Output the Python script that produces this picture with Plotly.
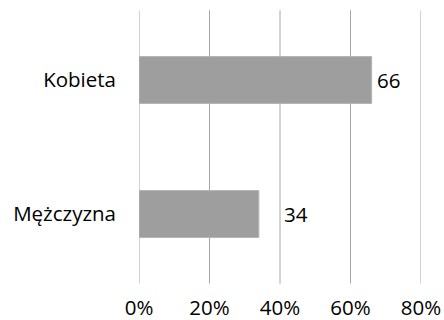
import plotly.graph_objects as go

categories = ["Mężczyzna", "Kobieta"]
values = [34, 66]
label_shift = [23, 3]
tick_vals = [0, 20, 40, 60, 80]
tick_text = ["0%", "20%", "40%", "60%", "80%"]

FONT = "Open Sans"
FS = 20.5

fig = go.Figure(go.Bar(
    y=categories, x=values, orientation="h",
    marker=dict(color="#9e9e9e", line=dict(color="#b4b4b4", width=1)),
    width=0.35, hoverinfo="skip",
))

for t in tick_vals:
    fig.add_shape(type="line", xref="x", yref="paper", x0=t, x1=t,
                  y0=-0.01, y1=1.01, layer="below",
                  line=dict(color="#a6a6a6", width=1))

for c, v, s in zip(categories, values, label_shift):
    fig.add_annotation(x=v, y=c, text=str(v), showarrow=False,
                       xanchor="left", yanchor="middle", xshift=s,
                       font=dict(family=FONT, size=FS, color="#000000"))

fig.update_layout(
    width=444, height=320,
    margin=dict(l=139, r=23, t=13, b=39, autoexpand=False),
    paper_bgcolor="white", plot_bgcolor="white",
    showlegend=False,
    font=dict(family=FONT, size=FS, color="#000000"),
    xaxis=dict(range=[0, 80], tickvals=tick_vals, ticktext=tick_text,
               showgrid=False, zeroline=False, showline=False, ticks="",
               ticklabelstandoff=12, automargin=False, fixedrange=True),
    yaxis=dict(range=[-0.5, 1.5], showgrid=False, zeroline=False,
               showline=False, ticks="", ticklabelstandoff=22,
               automargin=False, fixedrange=True),
)

fig.write_html("out.html")
